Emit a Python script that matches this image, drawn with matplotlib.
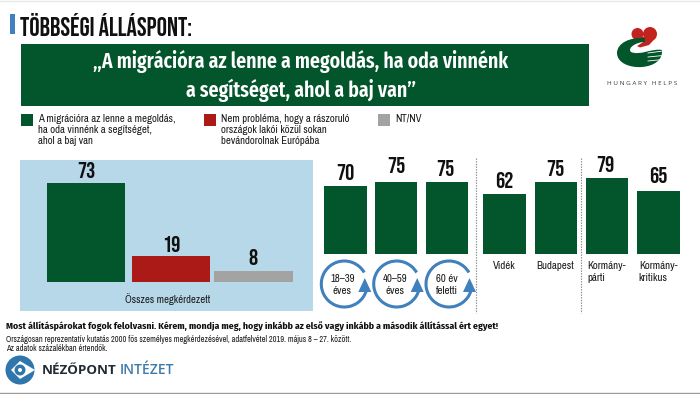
import matplotlib
matplotlib.use('Agg')
import matplotlib.pyplot as plt
from matplotlib.patches import Rectangle, Circle, Polygon, Arc, PathPatch
from matplotlib.path import Path

NARROW = ['Archivo Narrow', 'Roboto Condensed', 'Liberation Sans Narrow', 'Liberation Sans', 'DejaVu Sans']
NARROW_BOLD = ['Fira Sans Condensed', 'Roboto Condensed', 'Liberation Sans Narrow', 'Liberation Sans', 'DejaVu Sans']
EXTRA_NARROW = ['Fira Sans Extra Condensed', 'Roboto Condensed', 'Liberation Sans Narrow', 'Liberation Sans', 'DejaVu Sans']
HEAD = ['Bebas Neue', 'Oswald', 'Liberation Sans Narrow', 'Liberation Sans', 'DejaVu Sans']
plt.rcParams['font.family'] = NARROW

# data
total_values = [73, 19, 8]
group_values = [70, 75, 75, 62, 75, 79, 65]
group_labels = ['', '', '', 'Vidék', 'Budapest', 'Kormány-\npárti', 'Kormány-\nkritikus']
age_labels = ['18–39\néves', '40–59\néves', '60 év\nfeletti']
legend_labels = ['A migrációra az lenne a megoldás,\nha oda vinnénk a segítséget,\nahol a baj van',
                 'Nem probléma, hogy a rászoruló\nországok lakói közül sokan\nbevándorolnak Európába',
                 'NT/NV']

GREEN = '#03552c'
RED = '#ab1a17'
GREY = '#a3a3a3'
BLUE = '#3f80bd'
PANEL = '#b7d8e9'
TEXT = '#1a1a1a'
TOTAL_COLORS = [GREEN, RED, GREY]

# layout in pixels
total_lefts = [46.7, 131.7, 214]
total_width = 78.5
total_gaps = [4.4, 4.3, 6]
group_lefts = [324.3, 375, 426, 483.3, 534.5, 586, 637.3]
group_width = 42.2
group_gaps = [6, 8.4, 5.7, 5.7, 6, 6, 8]
group_dx = [0, 0, -1.3, 0, 0, -2, 0]
ring_x = [344.3, 396.7, 449]

fig = plt.figure(figsize=(7, 3.94), dpi=100)
bg = fig.add_axes([0, 0, 1, 1])
bg.set_xlim(0, 700)
bg.set_ylim(394, 0)
bg.axis('off')

# frame lines
bg.plot([0, 700], [393, 393], color='#9a9a9a', lw=1)
bg.plot([0, 700], [0.5, 0.5], color='#e8e8e8', lw=1)

# heading
bg.add_patch(Rectangle((10, 14), 5, 20, color=BLUE, lw=0))
bg.text(20.5, 24.5, 'TÖBBSÉGI ÁLLÁSPONT:', family=HEAD, fontsize=18.6,
        va='center', ha='left', color='#101010')

bg.add_patch(Rectangle((20.5, 43.5), 568, 62, color=GREEN, lw=0))
bg.text(301, 76, '„A migrációra az lenne a megoldás, ha oda vinnénk\na segítséget, ahol a baj van”',
        color='white', weight='semibold', family=EXTRA_NARROW, fontsize=15.5, ha='center', va='center',
        linespacing=1.3)

# legend
for x, col, lab in zip([21, 203.5, 378], TOTAL_COLORS, legend_labels):
    bg.add_patch(Rectangle((x, 113.5), 12, 12, color=col, lw=0))
    bg.text(x + 17.5, 113.5, lab, fontsize=7.75, va='top', ha='left', color=TEXT, linespacing=1.18)

# blue panel
bg.add_patch(Rectangle((20, 159.5), 292.5, 151.5, color=PANEL, lw=0))
bg.text(168, 299.5, 'Összes megkérdezett', fontsize=7.7, ha='center', va='center', color=TEXT)


def bar_axes(baseline, px_per_unit):
    top = 140
    ax = fig.add_axes([0, (394 - baseline) / 394, 1, (baseline - top) / 394])
    ax.set_xlim(0, 700)
    ax.set_ylim(0, (baseline - top) / px_per_unit)
    ax.axis('off')
    ax.patch.set_alpha(0)
    return ax


def value_labels(ax, bars, values, gaps, shifts):
    for b, v, gap, dx in zip(bars, values, gaps, shifts):
        ax.annotate(str(v), (b.get_x() + b.get_width() / 2, v), xytext=(dx * 0.72, gap * 0.72),
                    textcoords='offset points', ha='center', va='bottom', family=HEAD, fontsize=16.5,
                    color='#101010', annotation_clip=False)


ax1 = bar_axes(281.7, 1.356)
bars1 = ax1.bar(total_lefts, total_values, width=total_width, align='edge', color=TOTAL_COLORS)
value_labels(ax1, bars1, total_values, total_gaps, [0, 0, 0])

ax2 = bar_axes(253.7, 0.96)
bars2 = ax2.bar(group_lefts, group_values, width=group_width, align='edge', color=GREEN)
value_labels(ax2, bars2, group_values, group_gaps, group_dx)

# category labels under the bars
for b, lab in zip(bars2, group_labels):
    if lab:
        cx = b.get_x() + b.get_width() / 2
        multi = '\n' in lab
        bg.text(b.get_x() + 1.5 if multi else cx, 261, lab, fontsize=7.8, va='top',
                ha='left' if multi else 'center', color=TEXT, linespacing=1.25)

# separators
for x in [476.3, 581]:
    bg.plot([x, x], [158, 313], color='#8a8a8a', lw=0.8, ls=(0, (1.2, 1.2)))

# age rings
for x, lab in zip(ring_x, age_labels):
    bg.add_patch(Arc((x, 284), 46, 46, theta1=15, theta2=330, color=BLUE, lw=2.2))
    bg.add_patch(Polygon([(x + 14, 292), (x + 27, 292), (x + 20.5, 278)], color=BLUE, lw=0))
    bg.text(x - 2, 284.5, lab, fontsize=7.8, ha='center', va='center', color=TEXT, linespacing=1.25)

# Hungary Helps logo
bg.add_patch(Circle((637.5, 34), 6, color='#c2231f', lw=0))
bg.add_patch(Circle((650, 34), 7, color='#c2231f', lw=0))
bg.add_patch(Polygon([(632, 37), (656.5, 37), (649, 45), (640, 47.5), (637, 46), (645, 41), (640, 39)],
                     color='#c2231f', lw=0))
hand = Path([(645, 38), (630, 37), (617, 43), (617, 53), (617, 63), (630, 68), (642, 67),
             (654, 66), (663, 60), (662, 50), (652, 48), (640, 56), (631, 52), (627, 48), (636, 42), (645, 42),
             (645, 38)],
            [Path.MOVETO, Path.CURVE4, Path.CURVE4, Path.CURVE4, Path.CURVE4, Path.CURVE4, Path.CURVE4,
             Path.CURVE4, Path.CURVE4, Path.CURVE4, Path.CURVE4, Path.CURVE4, Path.CURVE4, Path.CURVE4,
             Path.CURVE4, Path.CURVE4, Path.LINETO])
bg.add_patch(PathPatch(hand, color=GREEN, lw=0))
for y0, y1 in [(53, 51), (57, 55.5), (61, 59.5)]:
    bg.plot([648, 663], [y0, y1], color='white', lw=0.6)
bg.text(642, 83.5, 'H U N G A R Y   H E L P S', fontsize=4.6, color='#3a3a3a', ha='center', va='center',
        family=['Open Sans', 'DejaVu Sans'])

# notes
bg.text(6, 326, 'Most állításpárokat fogok felolvasni. Kérem, mondja meg, hogy inkább az első vagy inkább a második állítással ért egyet!',
        fontsize=7.05, weight='bold', family=NARROW_BOLD, va='center', ha='left', color='#101010')
bg.text(6, 339.5, 'Országosan reprezentatív kutatás 2000 fős személyes megkérdezésével, adatfelvétel 2019. május 8 – 27. között.',
        fontsize=6, va='center', ha='left', color=TEXT)
bg.text(6, 348.5, 'Az adatok százalékban értendők.', fontsize=6, va='center', ha='left', color=TEXT)

# Nezopont logo
bg.add_patch(Circle((20, 370), 14.5, color='#2f76ad', lw=0))
bg.add_patch(Polygon([(11, 370), (20, 361), (35, 370), (20, 379)], color='white', lw=0))
bg.add_patch(Circle((20, 370), 5.5, color='#2f76ad', lw=0))
bg.add_patch(Circle((20, 370), 2, color='white', lw=0))
bg.text(42, 370.5, 'NÉZŐPONT', fontsize=9.6, weight='bold', family=['Open Sans', 'DejaVu Sans'],
        va='center', ha='left', color='#222a33')
bg.text(120, 370.5, 'INTÉZET', fontsize=10, weight='semibold', family=['Open Sans', 'DejaVu Sans'], va='center',
        ha='left', color='#3f7ba8')

fig.savefig('out.png', dpi=100)
